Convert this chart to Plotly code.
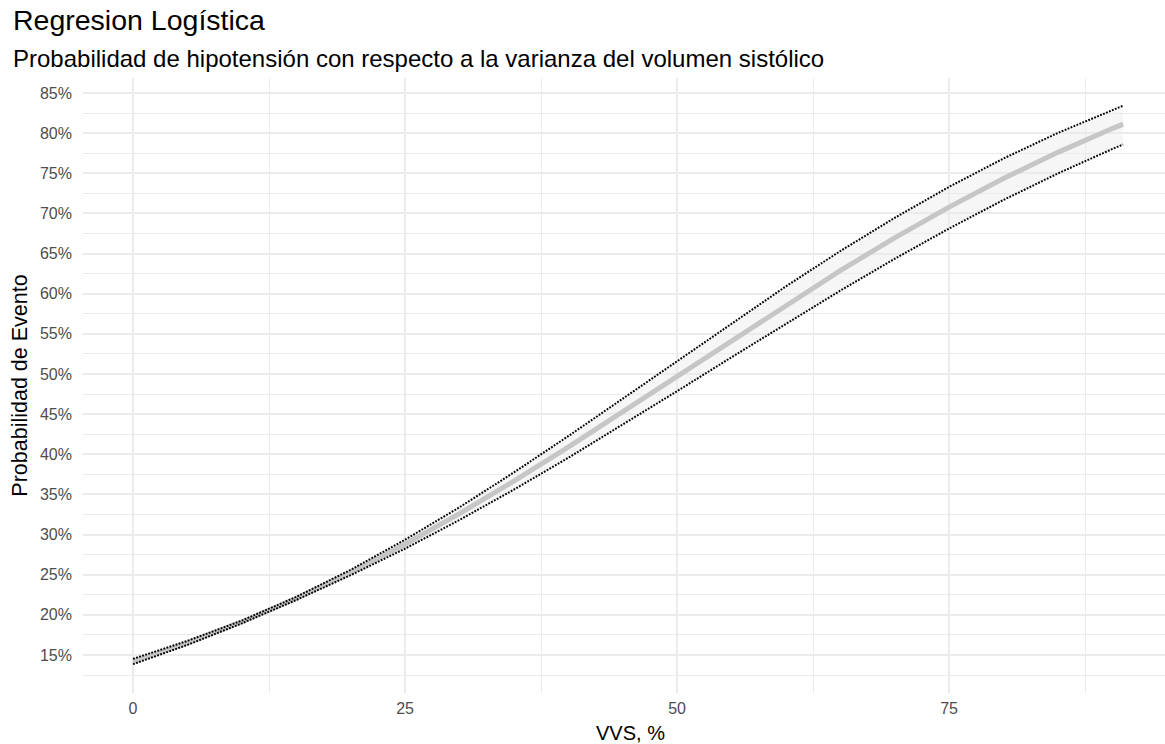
import plotly.graph_objects as go

# VVS values (%) at which the fitted probability was evaluated
vvs = [0, 5, 10, 15, 20, 25, 30, 35, 40, 45, 50, 55, 60, 65, 70, 75, 80, 85, 90, 91]

# Fitted probability of hypotension
prob_fit = [0.1419, 0.1651, 0.1912, 0.2205, 0.2528, 0.2880, 0.3261, 0.3666, 0.4090, 0.4529,
            0.4975, 0.5421, 0.5861, 0.6288, 0.6695, 0.7079, 0.7434, 0.7761, 0.8057, 0.8112]

# 95% confidence limits
prob_upper = [0.1452, 0.1676, 0.1929, 0.2224, 0.2561, 0.2936, 0.3340, 0.3774, 0.4226, 0.4693,
              0.5164, 0.5633, 0.6091, 0.6531, 0.6945, 0.7331, 0.7684, 0.8003, 0.8288, 0.8342]
prob_lower = [0.1386, 0.1626, 0.1895, 0.2186, 0.2494, 0.2825, 0.3182, 0.3560, 0.3956, 0.4367,
              0.4786, 0.5208, 0.5628, 0.6038, 0.6435, 0.6812, 0.7168, 0.7498, 0.7802, 0.7859]

x_ticks = [0, 25, 50, 75]
y_ticks = [0.15, 0.20, 0.25, 0.30, 0.35, 0.40, 0.45, 0.50, 0.55, 0.60, 0.65, 0.70, 0.75, 0.80, 0.85]
y_tick_labels = [f"{round(v * 100)}%" for v in y_ticks]

FONT = "Liberation Sans, Arial, sans-serif"
GRID = "#EBEBEB"

fig = go.Figure()

# confidence ribbon
fig.add_trace(go.Scatter(x=vvs, y=prob_lower, mode="lines", line=dict(width=0),
                         hoverinfo="skip", showlegend=False))
fig.add_trace(go.Scatter(x=vvs, y=prob_upper, mode="lines", line=dict(width=0),
                         fill="tonexty", fillcolor="rgba(235,235,235,0.45)",
                         hoverinfo="skip", showlegend=False))

# fitted curve
fig.add_trace(go.Scatter(x=vvs, y=prob_fit, mode="lines",
                         line=dict(color="#C6C6C6", width=5), showlegend=False))

# confidence limits
for band in (prob_upper, prob_lower):
    fig.add_trace(go.Scatter(x=vvs, y=band, mode="lines",
                             line=dict(color="#000000", width=2, dash="1.8px,1.4px"),
                             showlegend=False))

fig.update_layout(
    width=1165, height=744,
    margin=dict(l=83, r=0, t=78, b=51),
    paper_bgcolor="white", plot_bgcolor="white",
    font=dict(family=FONT, color="#4D4D4D"),
    xaxis=dict(
        range=[-4.6, 94.85], tickvals=x_ticks, ticktext=[str(v) for v in x_ticks],
        showgrid=True, gridcolor=GRID, gridwidth=2, zeroline=False, showline=False,
        ticks="", tickfont=dict(size=16, color="#4D4D4D"), ticklabelstandoff=4,
        minor=dict(tickvals=[12.5, 37.5, 62.5, 87.5], showgrid=True, gridcolor=GRID, gridwidth=1),
    ),
    yaxis=dict(
        range=[0.1027, 0.8687], tickvals=y_ticks, ticktext=y_tick_labels,
        showgrid=True, gridcolor=GRID, gridwidth=2, zeroline=False, showline=False,
        ticks="", tickfont=dict(size=16, color="#4D4D4D"), ticklabelstandoff=10,
        minor=dict(tickvals=[0.125 + 0.05 * i for i in range(15)], showgrid=True,
                   gridcolor=GRID, gridwidth=1),
        title=dict(text="Probabilidad de Evento", font=dict(size=21.5, color="black"), standoff=6),
    ),
    annotations=[
        dict(text="Regresion Logística", xref="paper", yref="paper",
             x=(11 - 83) / 1082, y=(693 - 20) / 615, xanchor="left", yanchor="middle",
             showarrow=False, font=dict(size=28.5, color="black", family=FONT)),
        dict(text="Probabilidad de hipotensión con respecto a la varianza del volumen sistólico",
             xref="paper", yref="paper",
             x=(11 - 83) / 1082, y=(693 - 58) / 615, xanchor="left", yanchor="middle",
             showarrow=False, font=dict(size=24, color="black", family=FONT)),
        # x-axis title, centred on the full (expanded) panel width
        dict(text="VVS, %", xref="paper", yref="paper",
             x=(630 - 83) / 1082, y=(693 - 733) / 615, xanchor="center", yanchor="middle",
             showarrow=False, font=dict(size=20, color="black", family=FONT)),
    ],
)

fig.write_html("out.html")
